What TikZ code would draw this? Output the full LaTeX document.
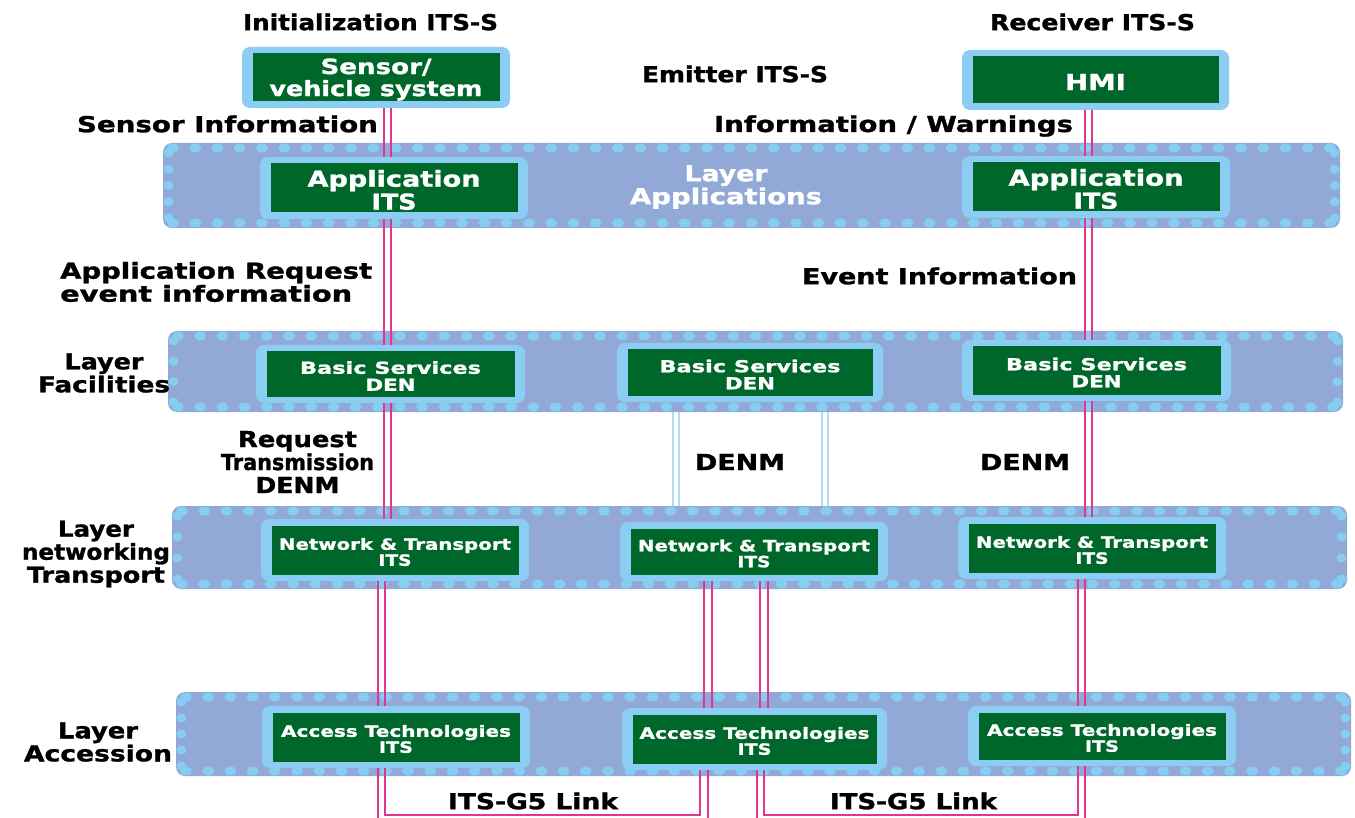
\documentclass[tikz,border=0pt]{standalone}
\usepackage{fontspec}
\setmainfont{DejaVu Sans}[BoldFeatures={FakeBold=1.2}]
\usepackage{graphicx}
\usetikzlibrary{calc}
\definecolor{bandc}{HTML}{92A8D6}
\definecolor{dotc}{HTML}{86CDF2}
\definecolor{edgec}{HTML}{8CCEF3}
\definecolor{itsgreen}{HTML}{00672B}
\definecolor{linkpink}{HTML}{E4358E}
\definecolor{linkhalo}{HTML}{F6B5D6}
\definecolor{denmc}{HTML}{B3DAF3}
\newsavebox\fitbox
\newcommand\fitw[2]{\sbox\fitbox{#2}\pgfmathsetmacro\fitsc{#1/\the\wd\fitbox}\scalebox{\fitsc}[1]{\usebox\fitbox}}
\newcommand\fsA{\fontsize{21}{22}\selectfont}
\newcommand\fsB{\fontsize{22}{23}\selectfont}
\newcommand\fsC{\fontsize{16.5}{17}\selectfont}
\newcommand\fsD{\fontsize{15.5}{16}\selectfont}
\tikzset{
  bandst/.style={fill=bandc, rounded corners=9pt, draw=none, inner sep=0pt},
  outerbox/.style={fill=edgec, rounded corners=8pt, draw=none, inner sep=0pt},
  innerbox/.style={fill=itsgreen, draw=none, inner sep=0pt, text=white, align=center},
  boxtext/.style={inner sep=0pt, text=white, align=center},
  lab/.style={font=\bfseries\fontsize{22}{23}\selectfont, align=center, inner sep=0pt, text=black},
  pinkln/.style={draw=linkpink, line width=1.1pt, preaction={draw=linkhalo, line width=2.6pt}},
  denml/.style={draw=denmc, line width=1.4pt}
}
\newcommand\layerband[5]{%
  \node[bandst, minimum width={#4-#2}, minimum height={#5-#3}] (#1) at ({(#2+#4)/2},{(#3+#5)/2}) {};
  \pgfmathtruncatemacro\nx{(#4-#2-20)/22}
  \pgfmathsetmacro\stx{(#4-#2-20)/\nx}
  \foreach \i in {0,...,\nx}{
    \fill[dotc] ({#2+10+\i*\stx},{#3+5}) ellipse [x radius=6, y radius=4.5];
    \fill[dotc] ({#2+10+\i*\stx},{#5-5}) ellipse [x radius=6, y radius=4.5];
  }
  \pgfmathtruncatemacro\ny{(#5-#3-20)/16}
  \pgfmathsetmacro\sty{(#5-#3-20)/\ny}
  \foreach \j in {0,...,\ny}{
    \fill[dotc] ({#2+5.5},{#3+10+\j*\sty}) ellipse [x radius=5, y radius=4.5];
    \fill[dotc] ({#4-5.5},{#3+10+\j*\sty}) ellipse [x radius=5, y radius=4.5];
  }
}
\newcommand\itsbox[7]{%
  \node[outerbox, minimum width={#4-#2}, minimum height={#5-#3}] (#1) at ({(#2+#4)/2},{(#3+#5)/2}) {};
  \node[innerbox, minimum width={#4-#2-21}, minimum height={#5-#3-13}] (#1in) at (#1) {};
  \node[boxtext, font=\bfseries#6] (#1tx) at ([yshift=-2pt]#1in.center) {#7};
}
\begin{document}
\begin{tikzpicture}[x=1pt,y=-1pt]
\useasboundingbox (0,0) rectangle (1355,818);
\fill[white] (0,0) rectangle (1355,818);

% layer bands
\layerband{appL}{163}{143}{1340}{228}
\layerband{fac}{168}{331}{1343}{412}
\layerband{net}{172}{506}{1347}{589}
\layerband{acc}{176}{692}{1351}{776}

% boxes
\itsbox{sens}{242}{47}{510}{108}{\fsA}{\fitw{111}{Sensor/}\\\fitw{213}{vehicle system}}
\itsbox{hmi}{962}{50}{1229}{110}{\fsB}{\fitw{61}{HMI}}
\itsbox{app1}{260}{157}{528}{219}{\fsB}{\fitw{173}{Application}\\\fitw{45}{ITS}}
\itsbox{app2}{962}{156}{1230}{218}{\fsB}{\fitw{175}{Application}\\\fitw{45}{ITS}}
\itsbox{bs1}{256}{345}{525}{403}{\fsC}{\fitw{181}{Basic Services}\\\fitw{50}{DEN}}
\itsbox{bs2}{617}{343}{883}{402}{\fsC}{\fitw{181}{Basic Services}\\\fitw{50}{DEN}}
\itsbox{bs3}{962}{340}{1231}{401}{\fsC}{\fitw{181}{Basic Services}\\\fitw{50}{DEN}}
\itsbox{nt1}{261}{519}{529}{581}{\fsD}{\fitw{232}{Network \& Transport}\\\fitw{33}{ITS}}
\itsbox{nt2}{620}{522}{888}{581}{\fsD}{\fitw{232}{Network \& Transport}\\\fitw{33}{ITS}}
\itsbox{nt3}{958}{517}{1226}{579}{\fsD}{\fitw{232}{Network \& Transport}\\\fitw{33}{ITS}}
\itsbox{at1}{262}{706}{530}{768}{\fsD}{\fitw{230}{Access Technologies}\\\fitw{34}{ITS}}
\itsbox{at2}{622}{708}{887}{770}{\fsD}{\fitw{230}{Access Technologies}\\\fitw{34}{ITS}}
\itsbox{at3}{968}{706}{1236}{766}{\fsD}{\fitw{230}{Access Technologies}\\\fitw{34}{ITS}}

% x positions of connector lines
\coordinate (pL1) at (384,0); \coordinate (pL2) at (391,0);
\coordinate (pR1) at (1085,0); \coordinate (pR2) at (1092,0);
\coordinate (qL1) at (378,0); \coordinate (qL2) at (385,0);
\coordinate (qM1) at (704,0); \coordinate (qM2) at (712,0);
\coordinate (qM3) at (760,0); \coordinate (qM4) at (768,0);
\coordinate (rM1) at (700,0); \coordinate (rM2) at (708,0);
\coordinate (rM3) at (757,0); \coordinate (rM4) at (764,0);
\coordinate (qR1) at (1078,0); \coordinate (qR2) at (1085,0);
\coordinate (dA1) at (673,0); \coordinate (dA2) at (679,0);
\coordinate (dB1) at (822,0); \coordinate (dB2) at (828,0);
\coordinate (bot) at (0,818); \coordinate (linky) at (0,815);

% DENM light lines
\foreach \c in {dA1,dA2,dB1,dB2}{\draw[denml] (fac.south -| \c) -- (net.north -| \c);}

% left chain
\foreach \c in {pL1,pL2}{
  \draw[pinkln] (sens.south -| \c) -- (app1.north -| \c);
  \draw[pinkln] (app1.south -| \c) -- (bs1.north -| \c);
  \draw[pinkln] (bs1.south -| \c) -- (nt1.north -| \c);
}
\foreach \c in {qL1,qL2}{\draw[pinkln] (nt1.south -| \c) -- (at1.north -| \c);}
% right chain
\foreach \c in {pR1,pR2}{
  \draw[pinkln] (hmi.south -| \c) -- (app2.north -| \c);
  \draw[pinkln] (app2.south -| \c) -- (bs3.north -| \c);
  \draw[pinkln] (bs3.south -| \c) -- (nt3.north -| \c);
}
\foreach \c in {qR1,qR2}{\draw[pinkln] (nt3.south -| \c) -- (at3.north -| \c);}
% middle
\foreach \c in {qM1,qM2,qM3,qM4}{\draw[pinkln] (nt2.south -| \c) -- (at2.north -| \c);}

% ITS-G5 links
\draw[pinkln] (at1.south -| qL1) -- (bot -| qL1);
\draw[pinkln] (at1.south -| qL2) |- (linky -| rM1) -- (at2.south -| rM1);
\draw[pinkln] (at2.south -| rM2) -- (bot -| rM2);
\draw[pinkln] (at2.south -| rM3) -- (bot -| rM3);
\draw[pinkln] (at2.south -| rM4) |- (linky -| qR1) -- (at3.south -| qR1);
\draw[pinkln] (at3.south -| qR2) -- (bot -| qR2);

% labels
\node[lab] (lInit) at (370.5,22) {\fitw{255}{Initialization ITS-S}};
\node[lab] (lRecv) at (1092.5,22) {\fitw{205}{Receiver ITS-S}};
\node[lab] (lEmit) at (735,74) {\fitw{186}{Emitter ITS-S}};
\node[lab] (lSens) at (227.5,124) {\fitw{301}{Sensor Information}};
\node[lab] (lWarn) at (893.5,126) {\fitw{359}{Information / Warnings}};
\node[lab, text=white] (lApp) at (726,187) {\fitw{83}{Layer}\\\fitw{192}{Applications}};
\node[lab, align=left, anchor=west] (lReq) at (60,282) {\fitw{312}{Application Request}\\\fitw{292}{event information}};
\node[lab] (lEvt) at (939.5,276) {\fitw{275}{Event Information}};
\node[lab] (lFac) at (104,373) {\fitw{79}{Layer}\\\fitw{132}{Facilities}};
\node[lab] (lRT) at (297.5,462) {\fitw{119}{Request}\\\fitw{153}{Transmission}\\\fitw{84}{DENM}};
\node[lab] (lD1) at (740,462) {\fitw{90}{DENM}};
\node[lab] (lD2) at (1025,462) {\fitw{90}{DENM}};
\node[lab] (lNet) at (96,554) {\fitw{76}{Layer}\\\fitw{148}{networking}\\\fitw{138}{Transport}};
\node[lab] (lAcc) at (98,742) {\fitw{80}{Layer}\\\fitw{148}{Accession}};
\node[lab] (lG1) at (533,801) {\fitw{170}{ITS-G5 Link}};
\node[lab] (lG2) at (913.5,801) {\fitw{167}{ITS-G5 Link}};
\end{tikzpicture}
\end{document}
